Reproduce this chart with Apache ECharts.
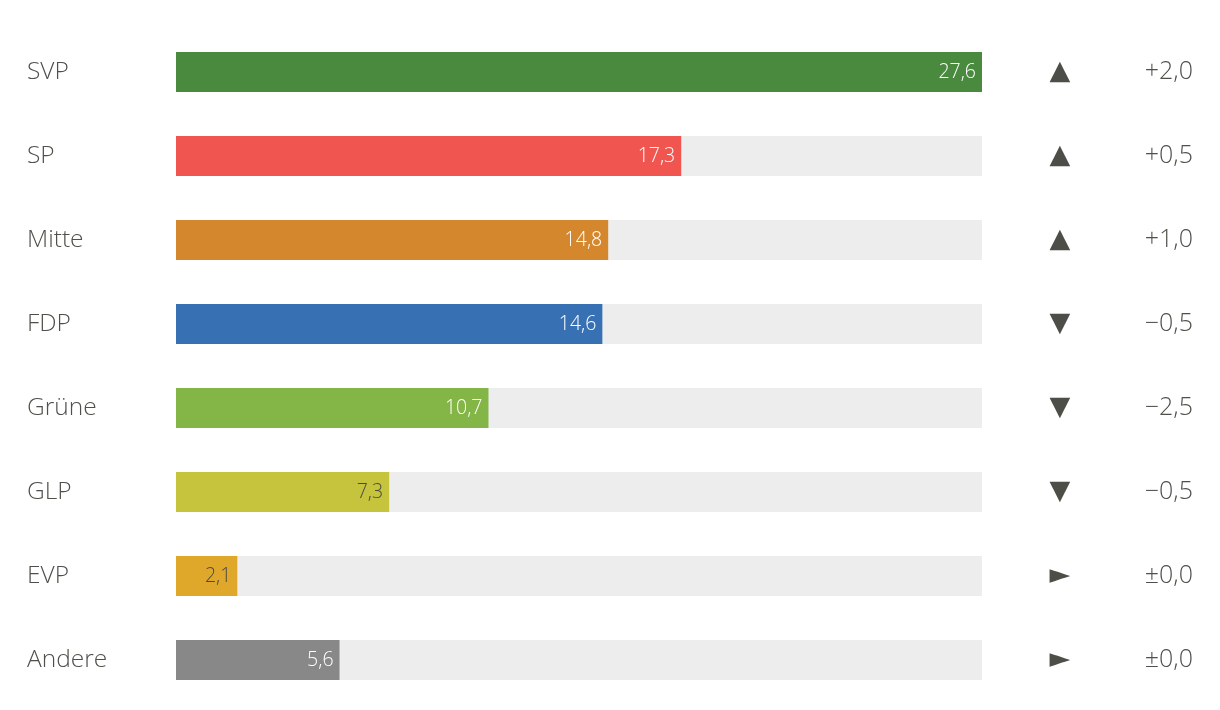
<!DOCTYPE html>
<html><head><meta charset="utf-8">
<script src="https://cdn.jsdelivr.net/npm/echarts@6/dist/echarts.min.js"></script>
<style>html,body{margin:0;padding:0;background:#fff}#c{width:1220px;height:710px}</style>
</head><body><div id="c"></div>
<script>
const parties = ['SVP','SP','Mitte','FDP','Grüne','GLP','EVP','Andere'];
const shares = [27.6,17.3,14.8,14.6,10.7,7.3,2.1,5.6];
const changes = [2.0,0.5,1.0,-0.5,-2.5,-0.5,0.0,0.0];
const colors = ['#4a8a3f','#f0554f','#d5872d','#3771b4','#83b646','#c5c43c','#e0a82a','#888888'];
const labelColors = ['#ffffff','#ffffff','#ffffff','#ffffff','#ffffff','#4a4a44','#4a4a44','#ffffff'];

const fmt = v => v.toFixed(1).replace('.', ',');
const fmtChange = v => v > 0 ? '+' + fmt(v) : v < 0 ? '\u2212' + fmt(-v) : '\u00b1' + fmt(0);
const arrow = v => v > 0 ? '\u25B2' : v < 0 ? '\u25BC' : '\u25BA';
const FONT = '"Open Sans", sans-serif';
const TXT = '#50504a';

const chart = echarts.init(document.getElementById('c'));
chart.setOption({
  animation: false,
  grid: {left: 176, right: 238, top: 30, height: 672},
  xAxis: {type: 'value', min: 0, max: Math.max(...shares), show: false},
  yAxis: [
    {type: 'category', data: parties, inverse: true,
     axisLine: {show: false}, axisTick: {show: false},
     axisLabel: {align: 'left', margin: 149, fontSize: 24.5, fontWeight: 300, color: TXT, fontFamily: FONT}},
    {type: 'category', data: changes.map(arrow), inverse: true, position: 'right',
     axisLine: {show: false}, axisTick: {show: false},
     axisLabel: {align: 'center', margin: 78, fontSize: 27, color: '#4e4e48', fontFamily: 'DejaVu Sans'}},
    {type: 'category', data: changes.map(fmtChange), inverse: true, position: 'right',
     axisLine: {show: false}, axisTick: {show: false},
     axisLabel: {align: 'right', margin: 211, fontSize: 25, fontWeight: 300, color: TXT, fontFamily: FONT}}
  ],
  series: [{
    type: 'bar', barWidth: 40, yAxisIndex: 0,
    showBackground: true, backgroundStyle: {color: '#ededed'},
    data: shares.map((v, i) => ({value: v, itemStyle: {color: colors[i]},
      label: {color: labelColors[i]}})),
    label: {show: true, position: 'insideRight', distance: 6, fontSize: 19.5, fontWeight: 300,
      fontFamily: FONT, formatter: p => fmt(p.value)}
  }]
});
</script></body></html>
